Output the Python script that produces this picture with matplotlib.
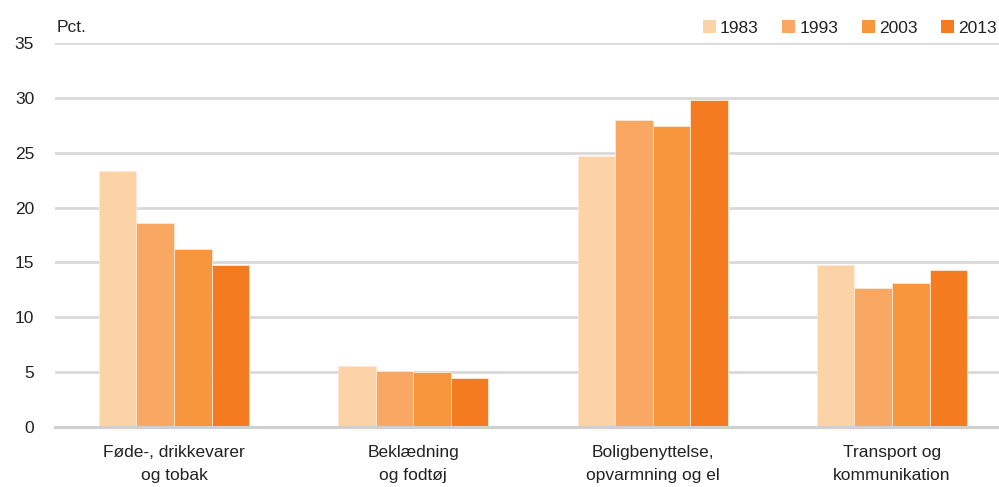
import matplotlib
matplotlib.use("Agg")
import matplotlib.pyplot as plt
import numpy as np

categories = ["Føde-, drikkevarer\nog tobak", "Beklædning\nog fodtøj",
              "Boligbenyttelse,\nopvarmning og el", "Transport og\nkommunikation"]
years = ["1983", "1993", "2003", "2013"]
v1983 = [23.3, 5.55, 24.7, 14.8]
v1993 = [18.6, 5.1, 28.0, 12.7]
v2003 = [16.2, 5.0, 27.4, 13.1]
v2013 = [14.8, 4.5, 29.8, 14.3]
series = [v1983, v1993, v2003, v2013]
colors = ["#FCD3A6", "#F9A864", "#F7963D", "#F47B20"]
yticks = [0, 5, 10, 15, 20, 25, 30, 35]

plt.rcParams["font.family"] = ["Liberation Sans", "DejaVu Sans"]

fig = plt.figure(figsize=(9.99, 4.87), dpi=100)
ax = fig.add_axes([55/999, 60/487, (999-55)/999, 384/487])

x = np.arange(len(categories))
w = 0.157
for i, (vals, c, yr) in enumerate(zip(series, colors, years)):
    ax.bar(x + (i - 1.5) * w, vals, width=w, color=c, edgecolor="#FDE9D6",
           linewidth=0.6, label=yr, zorder=3)

ax.set_ylim(0, 35)
ax.set_xlim(-0.497, 3.447)
ax.set_yticks(yticks)
ax.set_yticklabels([str(t) for t in yticks], fontsize=12.5, color="#222222")
ax.set_xticks(x)
ax.set_xticklabels(categories, fontsize=12.5, color="#222222", linespacing=1.7)
ax.tick_params(axis="both", length=0)
ax.tick_params(axis="y", pad=15)
ax.tick_params(axis="x", pad=13)
ax.grid(axis="y", color="#D9D9D9", linewidth=2, zorder=0)
for s in ["top", "right", "left"]:
    ax.spines[s].set_visible(False)
ax.spines["bottom"].set_color("#D0D0D0")
ax.spines["bottom"].set_linewidth(2.2)
ax.spines["bottom"].set_zorder(4)

fig.text(57/999, 1 - 27/487, "Pct.", fontsize=12.5, color="#222222", va="center")

leg = ax.legend(loc="center right", bbox_to_anchor=(1.0 + 5/944, 1 + 15/384), ncol=4, frameon=False,
                fontsize=12.5, handlelength=0.75, handleheight=0.75, handletextpad=0.25,
                columnspacing=1.35, borderaxespad=0.0)
for t in leg.get_texts():
    t.set_color("#222222")
for h in leg.legend_handles:
    h.set_edgecolor("none")

fig.savefig("out.png", dpi=100, facecolor="white")
